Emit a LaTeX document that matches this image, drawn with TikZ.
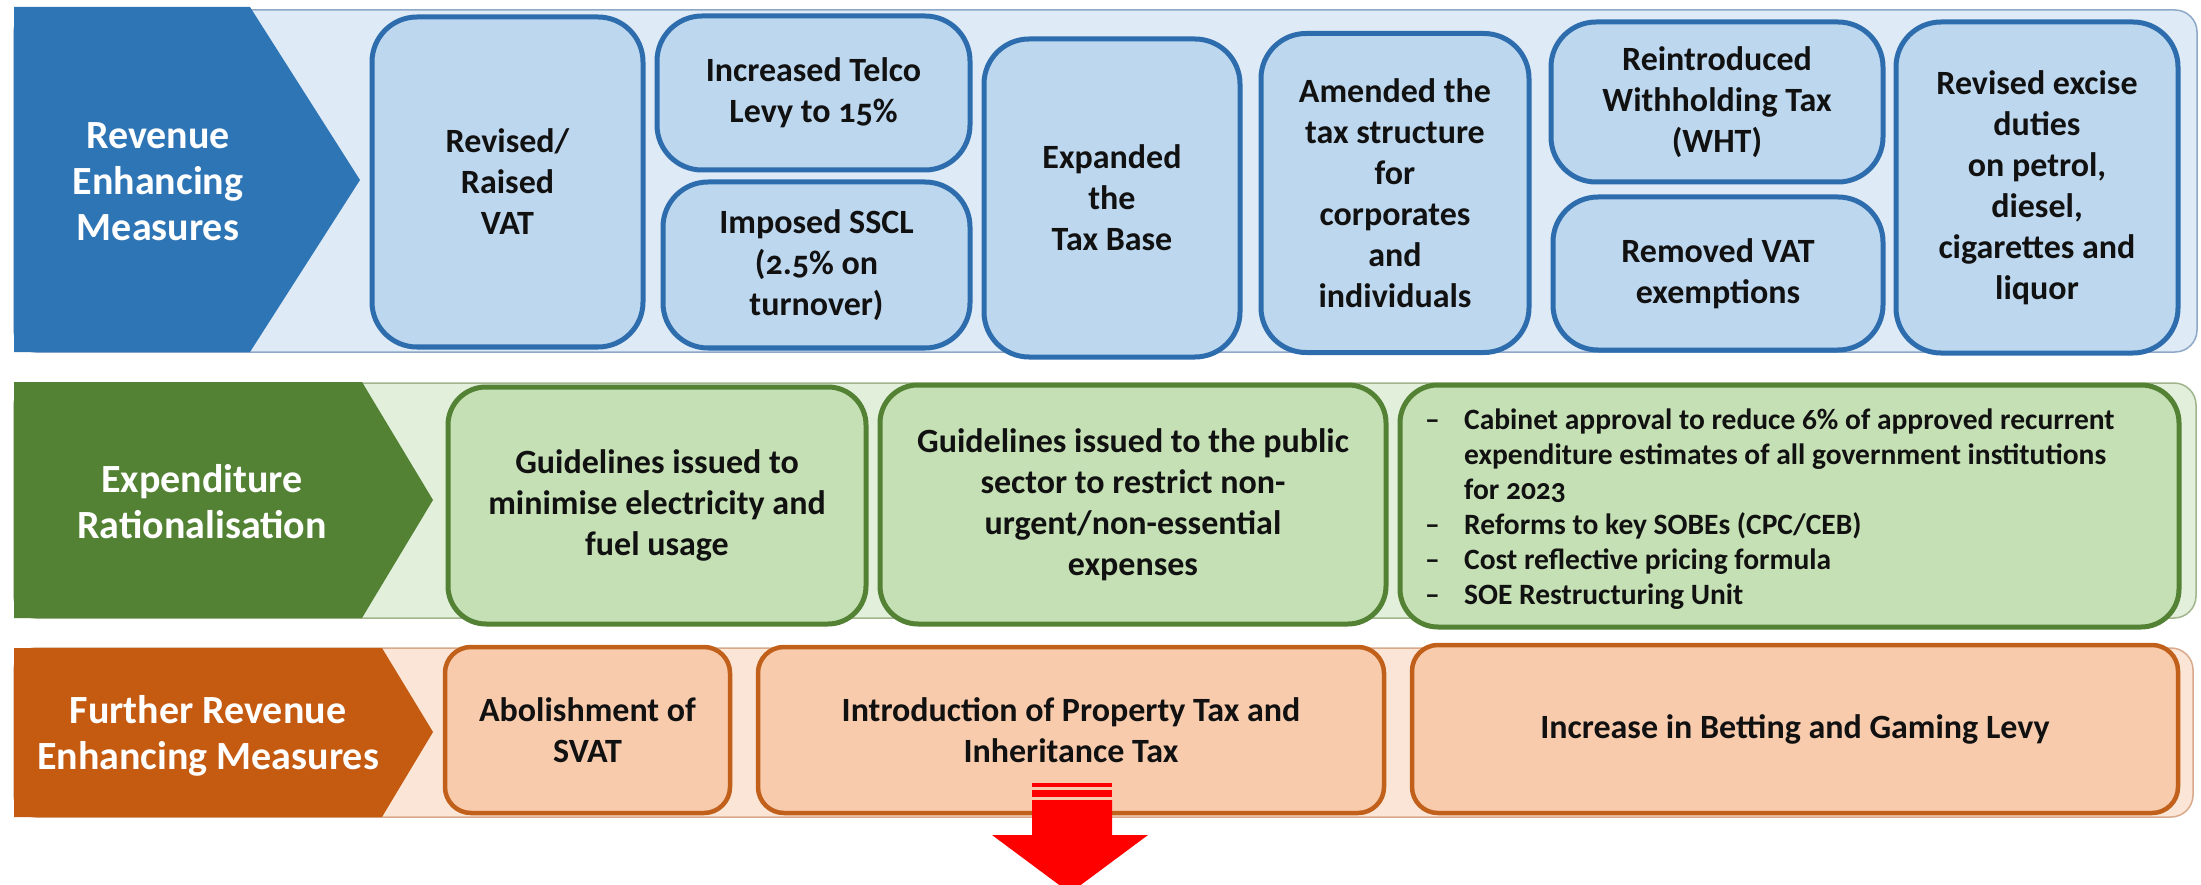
\documentclass[tikz,border=0pt]{standalone}
\usepackage{fontspec}
\setmainfont{Carlito}[Numbers=OldStyle]

\definecolor{blueDark}{HTML}{2E75B6}
\definecolor{blueBand}{HTML}{DEEAF6}
\definecolor{blueBox}{HTML}{BDD7EE}
\definecolor{blueEdge}{HTML}{2E6DAD}
\definecolor{blueLine}{HTML}{8EA9C8}
\definecolor{greenDark}{HTML}{548235}
\definecolor{greenBand}{HTML}{E2EFDA}
\definecolor{greenBox}{HTML}{C5E0B4}
\definecolor{greenEdge}{HTML}{548235}
\definecolor{greenLine}{HTML}{A0B58C}
\definecolor{orangeDark}{HTML}{C55A11}
\definecolor{orangeBand}{HTML}{FBE5D6}
\definecolor{orangeBox}{HTML}{F8CBAD}
\definecolor{orangeEdge}{HTML}{C0601A}
\definecolor{orangeLine}{HTML}{D9A98A}
\definecolor{inkText}{HTML}{111111}
\definecolor{arrowRed}{HTML}{FF0000}

\newcommand\itemfnt{\bfseries\fontsize{34}{41}\selectfont}
\newcommand\headfnt{\bfseries\fontsize{40}{46}\selectfont}
\newcommand\listfnt{\bfseries\fontsize{29.5}{35}\selectfont}
\newcommand\dashmark{\makebox[39pt][l]{--}}
\newcommand\dashgap{\hspace*{39pt}}

\tikzset{
  box/.style={draw, line width=5pt, align=center, inner sep=0pt, outer sep=0pt,
              text=inkText, font=\itemfnt},
  bluebox/.style={box, draw=blueEdge, fill=blueBox, rounded corners=45pt},
  greenbox/.style={box, draw=greenEdge, fill=greenBox, rounded corners=38pt},
  orangebox/.style={box, draw=orangeEdge, fill=orangeBox, rounded corners=26pt, line width=4.5pt},
  headlabel/.style={text=white, align=center, font=\headfnt, inner sep=0pt},
  listtext/.style={text=inkText, align=left, font=\listfnt, inner sep=0pt},
  band/.style={line width=1.5pt, rounded corners=22pt},
}

\begin{document}
\begin{tikzpicture}[x=1pt, y=-1pt]
\useasboundingbox (0,0) rectangle (2201,885);
\clip (0,0) rectangle (2201,885);
\fill[white] (0,0) rectangle (2201,885);

% ---------- Revenue enhancing measures ----------
\draw[band, fill=blueBand, draw=blueLine] (14,10) rectangle (2197,352);
\fill[blueDark] (14,7) -- (250,7) -- (360,180) -- (250,352) -- (14,352) -- cycle;
\node[headlabel] (revlab) at (158,182) {Revenue\\Enhancing\\Measures};

\node[bluebox, minimum width=271pt, minimum height=330pt] (vat) at (507.5,182) {Revised/\\Raised\\VAT};
\node[bluebox, minimum width=313pt, minimum height=154pt] (telco) at (813.5,93) {Increased Telco\\Levy to 15\%};
\node[bluebox, minimum width=307pt, minimum height=166pt] (sscl) at (816.5,265) {Imposed SSCL\\(2.5\% on\\turnover)};
\node[bluebox, minimum width=256pt, minimum height=318pt] (taxbase) at (1112,198) {Expanded\\the\\Tax Base};
\node[bluebox, minimum width=268pt, minimum height=319pt] (amend) at (1395,193) {Amended the\\tax structure\\for\\corporates\\and\\individuals};
\node[bluebox, minimum width=332pt, minimum height=160pt] (wht) at (1717,102) {Reintroduced\\Withholding Tax\\(WHT)};
\node[bluebox, minimum width=330pt, minimum height=153pt] (vatex) at (1718,273.5) {Removed VAT\\exemptions};
\node[bluebox, minimum width=282pt, minimum height=331pt] (excise) at (2037,187.5) {Revised excise\\duties\\on petrol,\\diesel,\\cigarettes and\\liquor};

% ---------- Expenditure rationalisation ----------
\draw[band, fill=greenBand, draw=greenLine] (14,383) rectangle (2196,618);
\fill[greenDark] (14,382) -- (362,382) -- (433,500) -- (362,618) -- (14,618) -- cycle;
\node[headlabel] (explab) at (202,502) {Expenditure\\Rationalisation};

\node[greenbox, minimum width=418pt, minimum height=237pt] (power) at (657,505.5) {Guidelines issued to\\minimise electricity and\\fuel usage};
\node[greenbox, minimum width=506pt, minimum height=239pt] (spend) at (1133,504.5) {Guidelines issued to the public\\sector to restrict non-\\urgent/non-essential\\expenses};
\node[greenbox, minimum width=779pt, minimum height=242pt] (reform) at (1789.5,506) {};
\node[listtext, anchor=west] (reformlist) at (1425,509) {%
  \dashmark Cabinet approval to reduce 6\% of approved recurrent\\
  \dashgap expenditure estimates of all government institutions\\
  \dashgap for 2023\\
  \dashmark Reforms to key SOBEs (CPC/CEB)\\
  \dashmark Cost reflective pricing formula\\
  \dashmark SOE Restructuring Unit};

% ---------- Further revenue enhancing measures ----------
\draw[band, fill=orangeBand, draw=orangeLine] (14,648) rectangle (2193,817);
\fill[orangeDark] (14,648) -- (382,648) -- (433,732) -- (382,817) -- (14,817) -- cycle;
\node[headlabel] (furlab) at (208,736) {Further Revenue\\Enhancing Measures};

\node[orangebox, minimum width=285pt, minimum height=166pt] (svat) at (587.5,730) {Abolishment of\\SVAT};
\node[orangebox, minimum width=626pt, minimum height=166pt] (prop) at (1071,730) {Introduction of Property Tax and\\Inheritance Tax};
\node[orangebox, minimum width=766pt, minimum height=168pt] (bet) at (1795,729) {Increase in Betting and Gaming Levy};

% ---------- downward arrow ----------
\fill[arrowRed] (1032,783) rectangle (1112,787);
\fill[arrowRed] (1032,790) rectangle (1112,797);
\fill[arrowRed] (1032,800) -- (1112,800) -- (1112,835) -- (1148,835) -- (1070,893)
  -- (992,835) -- (1032,835) -- cycle;
\end{tikzpicture}
\end{document}
